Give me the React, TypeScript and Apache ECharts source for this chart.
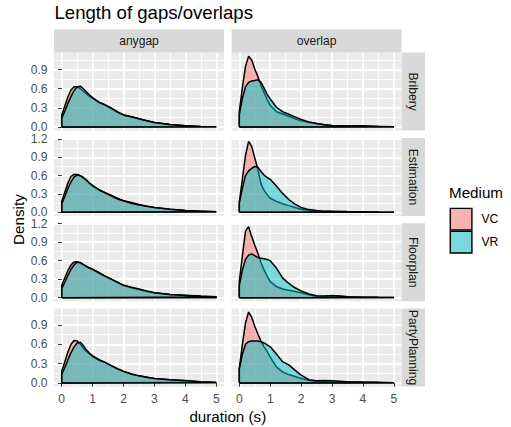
import React, { useEffect, useRef } from 'react';
import * as echarts from 'echarts';

// ---- data ----
const xs = [0, 0.1, 0.2, 0.3, 0.4, 0.5, 0.6, 0.7, 0.8, 0.9, 1.0, 1.2, 1.4, 1.6, 1.8, 2.0, 2.25, 2.5, 2.75, 3.0, 3.5, 4.0, 4.5, 5.0];
const tasks = ['Bribery', 'Estimation', 'Floorplan', 'PartyPlanning'];
const gapTypes = ['anygap', 'overlap'];
const media = ['VC', 'VR'];
const xTicks = [0, 1, 2, 3, 4, 5];
const xMinor = [0.5, 1.5, 2.5, 3.5, 4.5];
const yTicks = [0, 0.3, 0.6, 0.9, 1.2];
const yMinor = [0.15, 0.45, 0.75, 1.05];

const briberyGapVC = [0.19, 0.33, 0.47, 0.58, 0.63, 0.63, 0.60, 0.56, 0.52, 0.48, 0.45, 0.39, 0.34, 0.29, 0.23, 0.19, 0.16, 0.13, 0.10, 0.07, 0.04, 0.02, 0.01, 0.005];
const briberyGapVR = [0.14, 0.25, 0.37, 0.48, 0.57, 0.63, 0.64, 0.60, 0.55, 0.50, 0.46, 0.39, 0.35, 0.30, 0.24, 0.19, 0.16, 0.13, 0.10, 0.07, 0.04, 0.02, 0.01, 0.004];
const briberyOvVC = [0.25, 0.62, 0.95, 1.11, 1.05, 0.91, 0.79, 0.65, 0.54, 0.43, 0.34, 0.24, 0.205, 0.17, 0.13, 0.10, 0.075, 0.055, 0.035, 0.022, 0.015, 0.01, 0.008, 0.004];
const briberyOvVR = [0.20, 0.45, 0.63, 0.70, 0.72, 0.73, 0.74, 0.70, 0.61, 0.51, 0.44, 0.31, 0.24, 0.20, 0.16, 0.12, 0.08, 0.055, 0.035, 0.025, 0.015, 0.02, 0.008, 0.004];

const estimationGapVC = [0.18, 0.33, 0.48, 0.59, 0.62, 0.62, 0.60, 0.56, 0.52, 0.47, 0.43, 0.37, 0.32, 0.28, 0.23, 0.19, 0.16, 0.13, 0.10, 0.08, 0.05, 0.03, 0.02, 0.01];
const estimationGapVR = [0.14, 0.26, 0.39, 0.50, 0.58, 0.61, 0.60, 0.57, 0.53, 0.48, 0.44, 0.37, 0.32, 0.27, 0.22, 0.19, 0.15, 0.12, 0.10, 0.08, 0.05, 0.03, 0.02, 0.01];
const estimationOvVC = [0.17, 0.55, 0.93, 1.16, 1.08, 0.89, 0.70, 0.47, 0.36, 0.29, 0.23, 0.18, 0.14, 0.11, 0.08, 0.05, 0.03, 0.02, 0.015, 0.012, 0.01, 0.008, 0.005, 0.003];
const estimationOvVR = [0.15, 0.40, 0.60, 0.68, 0.72, 0.75, 0.74, 0.67, 0.61, 0.57, 0.54, 0.43, 0.31, 0.21, 0.135, 0.08, 0.045, 0.03, 0.02, 0.018, 0.012, 0.008, 0.005, 0.003];

const floorplanGapVC = [0.20, 0.32, 0.44, 0.53, 0.58, 0.58, 0.56, 0.53, 0.50, 0.48, 0.46, 0.41, 0.35, 0.30, 0.25, 0.20, 0.16, 0.13, 0.10, 0.08, 0.05, 0.04, 0.025, 0.015];
const floorplanGapVR = [0.15, 0.25, 0.36, 0.46, 0.53, 0.58, 0.57, 0.54, 0.51, 0.48, 0.46, 0.40, 0.35, 0.30, 0.25, 0.20, 0.17, 0.14, 0.11, 0.08, 0.05, 0.035, 0.02, 0.01];
const floorplanOvVC = [0.27, 0.68, 1.08, 1.15, 0.99, 0.85, 0.72, 0.57, 0.45, 0.35, 0.26, 0.18, 0.14, 0.12, 0.10, 0.08, 0.045, 0.02, 0.02, 0.035, 0.015, 0.008, 0.005, 0.003];
const floorplanOvVR = [0.20, 0.45, 0.62, 0.69, 0.71, 0.68, 0.65, 0.64, 0.63, 0.62, 0.60, 0.48, 0.32, 0.23, 0.16, 0.11, 0.06, 0.03, 0.025, 0.03, 0.015, 0.008, 0.005, 0.003];

const partyGapVC = [0.18, 0.33, 0.48, 0.60, 0.66, 0.65, 0.60, 0.54, 0.49, 0.45, 0.41, 0.36, 0.32, 0.27, 0.22, 0.18, 0.14, 0.11, 0.09, 0.07, 0.05, 0.035, 0.02, 0.01];
const partyGapVR = [0.13, 0.24, 0.36, 0.47, 0.56, 0.62, 0.63, 0.58, 0.51, 0.46, 0.42, 0.36, 0.32, 0.27, 0.22, 0.18, 0.14, 0.11, 0.09, 0.07, 0.05, 0.04, 0.015, 0.005];
const partyOvVC = [0.23, 0.60, 0.93, 1.10, 1.02, 0.88, 0.76, 0.65, 0.56, 0.49, 0.40, 0.25, 0.17, 0.13, 0.10, 0.07, 0.04, 0.025, 0.02, 0.015, 0.012, 0.01, 0.006, 0.003];
const partyOvVR = [0.22, 0.45, 0.60, 0.64, 0.65, 0.65, 0.65, 0.64, 0.62, 0.59, 0.56, 0.45, 0.33, 0.28, 0.20, 0.12, 0.05, 0.035, 0.04, 0.035, 0.02, 0.015, 0.012, 0.004];

// rows (task) x cols (gap type) x medium
const panels = [
  [[briberyGapVC, briberyGapVR], [briberyOvVC, briberyOvVR]],
  [[estimationGapVC, estimationGapVR], [estimationOvVC, estimationOvVR]],
  [[floorplanGapVC, floorplanGapVR], [floorplanOvVC, floorplanOvVR]],
  [[partyGapVC, partyGapVR], [partyOvVC, partyOvVR]],
];

// ---- styling / layout ----
const FONT = '"Liberation Sans", Arial, Helvetica, sans-serif';
const fills = ['#F8766D', '#00BFC4'];
const panelLefts = [54, 231.6];
const panelTops = [52.6, 137.9, 223.2, 308.5];
const PW = 170;
const PH = 78;
const STRIP = 23.4;
const AXIS_TXT = 12.1;

function buildOption() {
  const grid: any[] = [];
  const xAxis: any[] = [];
  const yAxis: any[] = [];
  const series: any[] = [];
  const graphic: any[] = [];

  panels.forEach((row, r) => {
    let M = 0;
    row.forEach((col) => col.forEach((arr) => arr.forEach((v) => { if (v > M) M = v; })));
    const yMin = -0.05 * M;
    const yMax = 1.05 * M;
    row.forEach((col, c) => {
      const g = r * 2 + c;
      grid.push({
        left: panelLefts[c], top: panelTops[r], width: PW, height: PH,
        show: true, backgroundColor: '#EBEBEB', borderWidth: 0, containLabel: false,
      });
      const bottomRow = r === panels.length - 1;
      xAxis.push({
        type: 'value', gridIndex: g, min: -0.25, max: 5.25, position: 'bottom',
        axisLine: { show: false },
        splitLine: { show: true, lineStyle: { color: '#FFFFFF', width: 1.8 } },
        axisTick: { show: bottomRow, customValues: xTicks, length: 3.8, lineStyle: { color: '#333333', width: 1 } },
        axisLabel: { show: bottomRow, customValues: xTicks, color: '#4D4D4D', fontSize: AXIS_TXT, fontFamily: FONT, margin: 6 },
      });
      xAxis.push({
        type: 'value', gridIndex: g, min: -0.25, max: 5.25, position: 'top',
        axisLine: { show: false },
        splitLine: { show: true, lineStyle: { color: '#FFFFFF', width: 0.9 } },
        axisTick: { show: false, customValues: xMinor },
        axisLabel: { show: false, customValues: xMinor },
      });
      const yT = yTicks.filter((v) => v <= yMax);
      yAxis.push({
        type: 'value', gridIndex: g, min: yMin, max: yMax, position: 'left',
        axisLine: { show: false },
        splitLine: { show: true, lineStyle: { color: '#FFFFFF', width: 1.8 } },
        axisTick: { show: c === 0, customValues: yT, length: 3.8, lineStyle: { color: '#333333', width: 1 } },
        axisLabel: {
          show: c === 0, customValues: yT, color: '#4D4D4D', fontSize: AXIS_TXT, fontFamily: FONT, margin: 6.5,
          formatter: (v: number) => v.toFixed(1),
        },
      });
      yAxis.push({
        type: 'value', gridIndex: g, min: yMin, max: yMax, position: 'right',
        axisLine: { show: false },
        splitLine: { show: true, lineStyle: { color: '#FFFFFF', width: 0.9 } },
        axisTick: { show: false, customValues: yMinor.filter((v) => v <= yMax) },
        axisLabel: { show: false, customValues: yMinor.filter((v) => v <= yMax) },
      });
      col.forEach((arr, m) => {
        const data: number[][] = [[xs[0], 0]];
        xs.forEach((x, i) => data.push([x, arr[i]]));
        data.push([xs[xs.length - 1], 0]);
        data.push([xs[0], 0]);
        series.push({
          name: media[m], type: 'line', xAxisIndex: 2 * g, yAxisIndex: 2 * g,
          data, showSymbol: false, symbol: 'none', silent: true, z: 2 + m,
          lineStyle: { color: '#000000', width: 1.5 },
          itemStyle: { color: fills[m] },
          areaStyle: { color: fills[m], opacity: 0.5 },
        });
      });
    });
    // right strip
    graphic.push({
      type: 'rect', shape: { x: 401.6, y: panelTops[r], width: STRIP, height: PH },
      style: { fill: '#D9D9D9' }, z: 1,
    });
    graphic.push({
      type: 'text', x: 401.6 + STRIP / 2, y: panelTops[r] + PH / 2, rotation: -Math.PI / 2, z: 2,
      style: { text: tasks[r], fill: '#1A1A1A', fontSize: AXIS_TXT, fontFamily: FONT, align: 'center', verticalAlign: 'middle' },
    });
  });

  gapTypes.forEach((t, c) => {
    graphic.push({
      type: 'rect', shape: { x: panelLefts[c], y: panelTops[0] - STRIP, width: PW, height: STRIP },
      style: { fill: '#D9D9D9' }, z: 1,
    });
    graphic.push({
      type: 'text', x: panelLefts[c] + PW / 2, y: panelTops[0] - STRIP / 2, z: 2,
      style: { text: t, fill: '#1A1A1A', fontSize: AXIS_TXT, fontFamily: FONT, align: 'center', verticalAlign: 'middle' },
    });
  });

  // titles
  graphic.push({
    type: 'text', x: 54.5, y: 12, z: 2,
    style: { text: 'Length of gaps/overlaps', fill: '#000000', fontSize: 18.6, fontFamily: FONT, align: 'left', verticalAlign: 'middle' },
  });
  graphic.push({
    type: 'text', x: (panelLefts[0] + panelLefts[1] + PW) / 2, y: 416, z: 2,
    style: { text: 'duration (s)', fill: '#000000', fontSize: 15.2, fontFamily: FONT, align: 'center', verticalAlign: 'middle' },
  });
  graphic.push({
    type: 'text', x: 18.5, y: (panelTops[0] + panelTops[3] + PH) / 2, rotation: Math.PI / 2, z: 2,
    style: { text: 'Density', fill: '#000000', fontSize: 15.2, fontFamily: FONT, align: 'center', verticalAlign: 'middle' },
  });

  // legend
  graphic.push({
    type: 'text', x: 449, y: 192, z: 2,
    style: { text: 'Medium', fill: '#000000', fontSize: 15.2, fontFamily: FONT, align: 'left', verticalAlign: 'middle' },
  });
  media.forEach((m, i) => {
    const ky = 207.7 + i * 23;
    graphic.push({ type: 'rect', shape: { x: 449.6, y: ky, width: 23, height: 23 }, style: { fill: '#F2F2F2' }, z: 1 });
    graphic.push({
      type: 'rect', shape: { x: 450.3, y: ky + 0.7, width: 21.6, height: 21.6 },
      style: { fill: fills[i], opacity: 0.5 }, z: 2,
    });
    graphic.push({
      type: 'rect', shape: { x: 450.3, y: ky + 0.7, width: 21.6, height: 21.6 },
      style: { fill: 'none', stroke: '#000000', lineWidth: 1.4 }, z: 3,
    });
    graphic.push({
      type: 'text', x: 481.5, y: ky + 11.5, z: 2,
      style: { text: m, fill: '#000000', fontSize: AXIS_TXT, fontFamily: FONT, align: 'left', verticalAlign: 'middle' },
    });
  });

  return {
    animation: false,
    backgroundColor: '#FFFFFF',
    textStyle: { fontFamily: FONT },
    grid, xAxis, yAxis, series, graphic,
  };
}

export default function App() {
  const ref = useRef<HTMLDivElement>(null);
  useEffect(() => {
    if (!ref.current) return;
    const chart = echarts.init(ref.current, null, { renderer: 'svg' });
    chart.setOption(buildOption() as any);
    return () => chart.dispose();
  }, []);
  return (
    <div
      ref={ref}
      style={{ position: 'fixed', left: 0, top: 0, width: 511, height: 427 }}
    />
  );
}
